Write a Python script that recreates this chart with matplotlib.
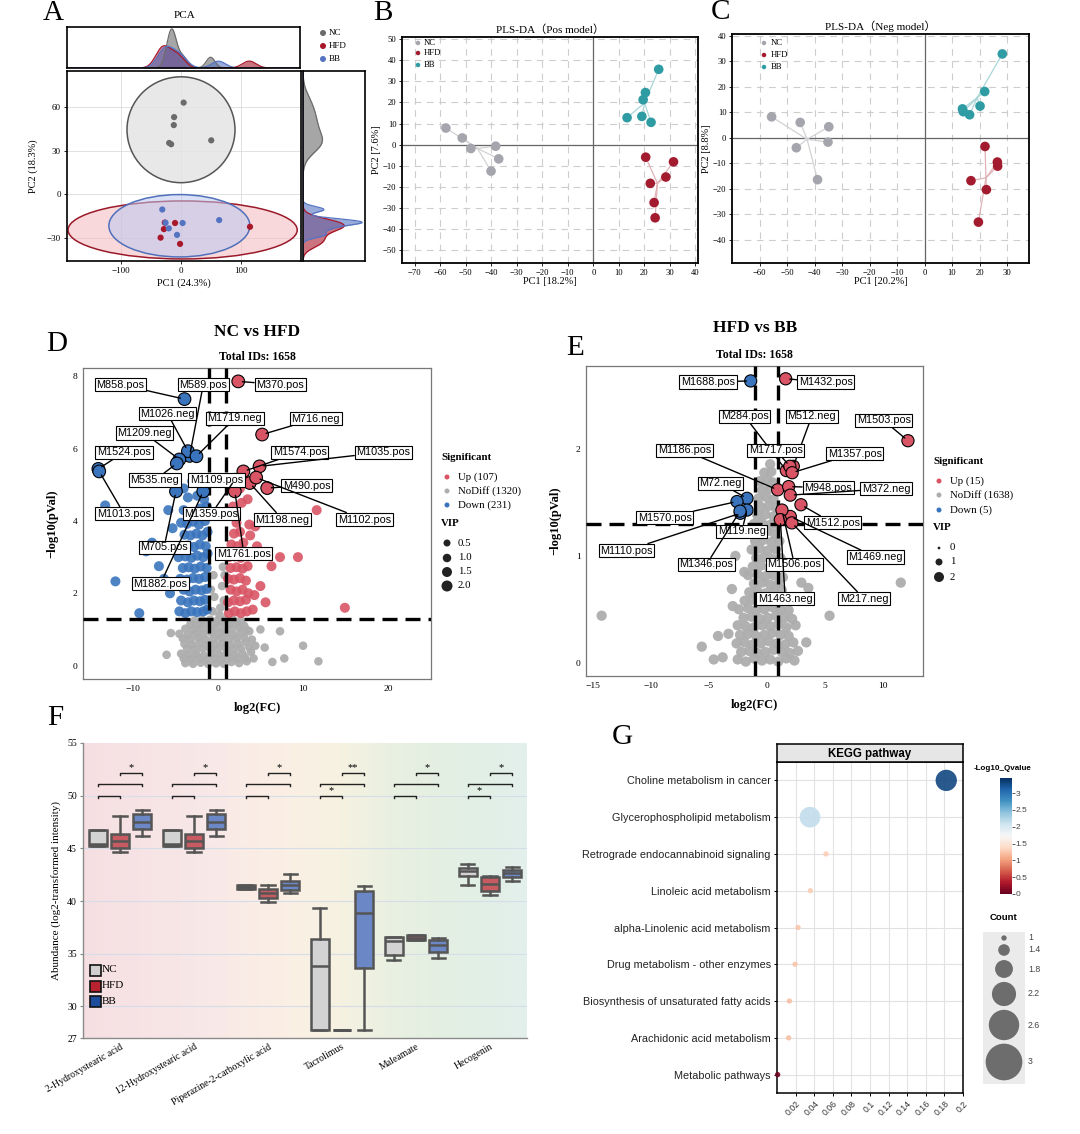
"""Metabolomics overview figure: PCA, PLS-DA, volcano plots, box plots and KEGG bubbles."""

import numpy as np
import matplotlib
matplotlib.use("Agg")
import matplotlib.pyplot as plt
from matplotlib.patches import Ellipse, Rectangle
from matplotlib.colors import LinearSegmentedColormap, Normalize, to_rgba
from matplotlib.cm import ScalarMappable

W, H = 1080, 1134
SERIF = ["Liberation Serif", "DejaVu Serif"]
SERIF_CJK = ["Liberation Serif", "Noto Sans CJK SC"]
SANS = ["Liberation Sans", "DejaVu Sans"]
plt.rcParams["font.family"] = SERIF

# ---------------- A: PCA scores ----------------
pca_nc_x = [4.4, -11.5, -12.0, -19.7, -16.4, 50.4]
pca_nc_y = [63.2, 53.2, 47.7, 35.4, 34.5, 37.2]
pca_hfd_x = [115.0, -9.9, -28.5, -34.0, -1.6, -27.0]
pca_hfd_y = [-22.4, -19.8, -24.0, -29.9, -34.2, -19.5]
pca_bb_x = [-31.2, -25.8, 2.7, -20.3, -6.6, 63.6]
pca_bb_y = [-10.5, -19.6, -19.8, -23.5, -28.0, -17.8]
# confidence ellipses (NC, HFD, BB)
pca_ell_cx = [0.0, 2.7, -2.7]
pca_ell_cy = [44.5, -24.6, -21.7]
pca_ell_w = [180.0, 382.0, 235.0]
pca_ell_h = [73.0, 40.0, 43.0]

# ---------------- B: PLS-DA positive mode ----------------
plsp_nc_x = [-57.8, -51.4, -48.0, -38.3, -37.1, -40.1]
plsp_nc_y = [7.9, 3.2, -1.8, -0.7, -6.7, -12.5]
plsp_hfd_x = [20.5, 31.4, 22.3, 28.4, 23.8, 24.2]
plsp_hfd_y = [-5.9, -8.1, -18.3, -15.3, -27.4, -34.6]
plsp_bb_x = [25.6, 20.4, 19.5, 13.2, 19.0, 22.6]
plsp_bb_y = [35.7, 24.7, 21.3, 12.8, 13.4, 10.6]

# ---------------- C: PLS-DA negative mode ----------------
plsn_nc_x = [-55.6, -45.2, -34.8, -46.6, -35.1, -38.9]
plsn_nc_y = [8.2, 6.0, 4.3, -3.9, -1.7, -16.4]
plsn_hfd_x = [22.0, 26.5, 26.6, 16.9, 22.5, 19.6]
plsn_hfd_y = [-3.4, -9.5, -11.1, -16.8, -20.3, -33.0]
plsn_bb_x = [28.3, 21.9, 20.2, 13.8, 14.1, 16.4]
plsn_bb_y = [32.8, 18.1, 12.4, 11.3, 10.2, 9.0]

# ---------------- D: volcano NC vs HFD ----------------
d_down = [
    (-4.5, 1.5), (-3.8, 1.45), (-3.1, 1.5), (-2.4, 1.48), (-1.7, 1.5), (-1.25, 1.55),
    (-4.3, 1.8), (-3.5, 1.75), (-2.8, 1.8), (-2.1, 1.78), (-1.5, 1.82),
    (-4.0, 2.1), (-3.3, 2.05), (-2.6, 2.1), (-1.9, 2.08), (-1.3, 2.12),
    (-4.4, 2.4), (-3.6, 2.38), (-2.9, 2.42), (-2.2, 2.4), (-1.5, 2.45),
    (-4.1, 2.7), (-3.4, 2.72), (-2.7, 2.68), (-2.0, 2.74), (-1.3, 2.7),
    (-4.6, 3.0), (-3.8, 3.02), (-3.1, 2.98), (-2.4, 3.04), (-1.7, 3.0), (-1.2, 3.1),
    (-4.2, 3.3), (-3.5, 3.32), (-2.8, 3.28), (-2.1, 3.35), (-1.4, 3.3),
    (-3.9, 3.62), (-3.2, 3.6), (-2.5, 3.65), (-1.8, 3.6), (-1.2, 3.7),
    (-4.3, 3.95), (-3.6, 3.92), (-2.9, 3.98), (-2.2, 3.9), (-1.5, 4.0),
    (-4.0, 4.3), (-3.0, 4.25), (-2.0, 4.35), (-1.3, 4.4),
    (-3.5, 4.65), (-2.4, 4.7), (-1.6, 4.6), (-2.0, 5.0), (-3.0, 5.1), (-4.0, 4.9),
    (-13.2, 4.43), (-12.0, 2.33), (-9.2, 1.45), (-6.9, 2.75), (-8.4, 3.16),
    (-6.0, 3.3), (-5.6, 2.0), (-5.3, 3.8), (-7.7, 3.4), (-5.8, 4.3), (-6.3, 2.4),
]
d_up = [
    (1.3, 1.45), (2.0, 1.5), (2.7, 1.45), (3.4, 1.5), (4.1, 1.55),
    (1.2, 1.75), (1.9, 1.8), (2.6, 1.78), (3.3, 1.82),
    (1.5, 2.1), (2.2, 2.05), (2.9, 2.1), (3.6, 2.0),
    (1.2, 2.4), (1.9, 2.38), (2.6, 2.42), (3.3, 2.35),
    (1.5, 2.7), (2.2, 2.72), (2.9, 2.68), (3.5, 2.75),
    (1.3, 3.0), (2.0, 3.02), (2.7, 2.98), (3.3, 3.05),
    (1.6, 3.35), (2.3, 3.3), (3.0, 3.4),
    (1.9, 3.65), (2.6, 3.7), (3.8, 3.6),
    (2.2, 3.95), (3.7, 3.9), (4.4, 3.85),
    (1.8, 4.4), (2.8, 4.5), (1.4, 4.15), (3.5, 4.6), (2.6, 4.9),
    (11.6, 4.3), (14.9, 1.6), (9.4, 3.0), (7.3, 3.0), (6.3, 2.75),
    (5.6, 1.75), (4.3, 1.95), (5.0, 2.2), (4.6, 3.3),
]
d_nodiff = [
    (-3.8, 0.07), (-2.9, 0.05), (-2.0, 0.08), (-1.1, 0.04), (-0.2, 0.06), (0.7, 0.05),
    (1.6, 0.1), (2.5, 0.07), (3.4, 0.12),
    (-4.0, 0.2), (-3.1, 0.18), (-2.2, 0.2), (-1.3, 0.17), (-0.4, 0.19), (0.5, 0.18),
    (1.4, 0.21), (2.3, 0.2), (3.2, 0.22), (4.2, 0.2),
    (-4.3, 0.33), (-3.4, 0.3), (-2.5, 0.32), (-1.6, 0.28), (-0.7, 0.33), (0.2, 0.3),
    (1.1, 0.35), (2.0, 0.3), (2.9, 0.33), (3.9, 0.38),
    (-3.6, 0.47), (-2.7, 0.45), (-1.8, 0.48), (-0.9, 0.46), (0.0, 0.47), (0.9, 0.49),
    (1.8, 0.45), (2.7, 0.47), (3.7, 0.5),
    (-3.9, 0.6), (-3.0, 0.58), (-2.1, 0.62), (-1.2, 0.57), (-0.3, 0.6), (0.6, 0.63),
    (1.5, 0.58), (2.4, 0.6), (3.3, 0.65), (4.4, 0.55),
    (-4.1, 0.75), (-3.2, 0.73), (-2.3, 0.76), (-1.4, 0.72), (-0.5, 0.75), (0.4, 0.77),
    (1.3, 0.73), (2.2, 0.75), (3.1, 0.78), (4.0, 0.72),
    (-4.5, 0.88), (-3.5, 0.85), (-2.6, 0.9), (-1.7, 0.87), (-0.8, 0.92), (0.1, 0.88),
    (1.0, 0.9), (1.9, 0.86), (2.8, 0.92), (3.7, 0.95),
    (-3.8, 1.02), (-2.9, 1.0), (-2.0, 1.03), (-1.1, 1.01), (-0.2, 1.04), (0.7, 1.0),
    (1.6, 1.02), (2.5, 1.05), (3.4, 0.99),
    (-3.2, 1.15), (-2.3, 1.12), (-1.4, 1.18), (-0.5, 1.14), (0.4, 1.2), (1.3, 1.15),
    (2.2, 1.18), (3.1, 1.1),
    (-2.7, 1.25), (-1.8, 1.26), (-0.9, 1.27), (0.0, 1.25), (0.9, 1.28), (1.8, 1.26),
    (2.7, 1.24),
    (-0.6, 1.5), (0.3, 1.6), (0.7, 1.8), (-0.4, 1.9), (0.5, 2.2), (0.6, 2.73),
    (-0.5, 2.5), (0.2, 1.4), (0.8, 2.5), (-0.8, 2.1),
    (-5.5, 0.9), (7.3, 0.95), (10.0, 0.55), (11.8, 0.12), (7.8, 0.2), (6.4, 0.1),
    (5.5, 0.5), (-6.0, 0.3), (5.0, 1.0),
]
d_lab_names = ["M370.pos", "M858.pos", "M589.pos", "M1026.neg", "M1719.neg", "M716.neg",
               "M1209.neg", "M1524.pos", "M1574.pos", "M1035.pos", "M535.neg", "M1109.pos",
               "M1013.pos", "M1359.pos", "M1198.neg", "M490.pos", "M1102.pos", "M1761.pos",
               "M705.pos", "M1882.pos"]
d_lab_x = [2.4, -3.9, -3.3, -3.5, -2.5, 5.2, -4.5, -14.0, 3.0, 4.9, -4.8, 1.9,
           -13.9, 2.0, 3.75, 5.8, 4.5, 2.0, -4.9, -1.7]
d_lab_y = [7.86, 7.37, 5.8, 5.93, 5.79, 6.39, 5.7, 5.44, 5.37, 5.51, 5.59, 4.87,
           5.37, 5.14, 5.05, 4.91, 5.2, 4.82, 4.82, 4.82]

# ---------------- E: volcano HFD vs BB ----------------
e_nodiff = [
    (-2.5, 0.03), (-1.8, 0.01), (-1.1, 0.04), (-0.4, 0.02), (0.3, 0.03), (1.0, 0.01), (1.7, 0.04), (2.4, 0.02),
    (-2.2, 0.1), (-1.5, 0.11), (-0.8, 0.09), (-0.1, 0.1), (0.6, 0.12), (1.3, 0.1), (2.0, 0.09), (2.7, 0.11),
    (-2.6, 0.18), (-1.9, 0.19), (-1.2, 0.17), (-0.5, 0.18), (0.2, 0.2), (0.9, 0.18), (1.6, 0.17), (2.3, 0.19),
    (-2.3, 0.26), (-1.6, 0.27), (-0.9, 0.25), (-0.2, 0.26), (0.5, 0.28), (1.2, 0.26), (1.9, 0.25),
    (-2.5, 0.35), (-1.8, 0.34), (-1.1, 0.33), (-0.4, 0.35), (0.3, 0.34), (1.0, 0.36), (1.7, 0.33), (2.5, 0.35),
    (-2.0, 0.42), (-1.3, 0.43), (-0.6, 0.41), (0.1, 0.42), (0.8, 0.44), (1.5, 0.42), (2.2, 0.41),
    (-2.4, 0.5), (-1.6, 0.51), (-0.9, 0.49), (-0.2, 0.5), (0.5, 0.52), (1.2, 0.5), (1.9, 0.49),
    (-1.9, 0.58), (-1.2, 0.59), (-0.5, 0.57), (0.2, 0.58), (0.9, 0.6), (1.6, 0.58),
    (-1.5, 0.66), (-0.8, 0.67), (-0.1, 0.65), (0.6, 0.66), (1.3, 0.68),
    (-1.1, 0.74), (-0.4, 0.75), (0.3, 0.73), (1.0, 0.74),
    (-1.6, 0.82), (-0.8, 0.83), (-0.1, 0.81), (0.6, 0.82), (1.4, 0.8),
    (-1.2, 0.9), (-0.5, 0.91), (0.2, 0.89), (0.9, 0.9),
    (-0.9, 0.98), (-0.2, 0.99), (0.5, 0.97), (1.2, 0.98),
    (-1.3, 1.06), (-0.6, 1.07), (0.1, 1.05), (0.8, 1.06),
    (-1.0, 1.14), (-0.3, 1.15), (0.4, 1.13), (1.1, 1.14),
    (-0.7, 1.22), (0.0, 1.23), (0.7, 1.21),
    (-1.1, 1.3), (-0.4, 1.31), (0.3, 1.29), (0.9, 1.3),
    (-0.8, 1.38), (-0.1, 1.39), (0.6, 1.37),
    (-0.5, 1.46), (0.2, 1.47), (0.8, 1.45),
    (-0.7, 1.54), (0.0, 1.55), (0.6, 1.53),
    (-0.4, 1.62), (0.3, 1.63),
    (-0.6, 1.7), (0.1, 1.71), (0.5, 1.69),
    (-0.2, 1.78), (0.4, 1.79), (0.3, 1.86),
    (-14.25, 0.44), (11.58, 0.75), (5.43, 0.44), (3.42, 0.19), (3.0, 0.75), (-3.0, 0.69),
    (-2.93, 0.53), (-3.3, 0.27), (-5.6, 0.15), (-4.2, 0.25), (-4.57, 0.03), (-2.7, 1.0),
    (-1.93, 0.85), (3.6, 0.7), (-3.8, 0.05),
]
e_lab_names = ["M1688.pos", "M1432.pos", "M1503.pos", "M284.pos", "M512.neg", "M1717.pos",
               "M1186.pos", "M1357.pos", "M948.pos", "M372.neg", "M72.neg", "M1570.pos",
               "M119.neg", "M1110.pos", "M1346.pos", "M1512.pos", "M1469.neg", "M1506.pos",
               "M1463.neg", "M217.neg"]
e_lab_x = [-1.38, 1.64, 12.2, 1.7, 2.3, 2.0, 0.95, 2.2, 1.9, 2.04, -1.7, -2.56,
           -1.7, -2.27, -2.3, 2.96, 2.04, 1.32, 1.18, 2.18]
e_lab_y = [2.64, 2.66, 2.08, 1.8, 1.84, 1.84, 1.62, 1.78, 1.65, 1.57, 1.54, 1.51,
           1.43, 1.4, 1.42, 1.48, 1.37, 1.43, 1.34, 1.31]

# ---------------- F: box plots ----------------
f_compounds = ["2-Hydroxystearic acid", "12-Hydroxystearic acid", "Piperazine-2-carboxylic acid",
               "Tacrolimus", "Maleamate", "Hecogenin"]
# (whisker low, q1, median, q3, whisker high)
f_nc = [(45.2, 45.25, 45.45, 46.7, 46.7), (45.2, 45.25, 45.45, 46.7, 46.7),
        (41.17, 41.17, 41.36, 41.55, 41.55), (27.78, 27.78, 33.86, 36.42, 39.34),
        (34.37, 34.9, 36.17, 36.58, 36.58), (41.49, 42.34, 42.82, 43.13, 43.54)]
f_hfd = [(44.62, 45.03, 45.73, 46.4, 48.04), (44.62, 45.03, 45.73, 46.4, 48.04),
         (39.9, 40.28, 40.76, 41.17, 41.49), (27.78, 27.78, 27.78, 27.78, 27.78),
         (36.27, 36.27, 36.5, 36.8, 36.8), (40.54, 40.92, 41.65, 42.25, 42.34)]
f_bb = [(46.14, 46.84, 47.5, 48.26, 48.67), (46.14, 46.84, 47.5, 48.26, 48.67),
        (40.76, 41.01, 41.55, 41.87, 42.56), (27.78, 33.61, 38.86, 40.98, 41.39),
        (34.62, 35.16, 35.85, 36.33, 36.49), (41.87, 42.28, 42.66, 42.91, 43.23)]
f_sig_nc_hfd = ["", "", "", "*", "", "*"]
f_sig_nc_bb = ["", "", "", "", "", ""]
f_sig_hfd_bb = ["*", "*", "*", "**", "*", "*"]

# ---------------- G: KEGG enrichment ----------------
g_pathways = ["Choline metabolism in cancer", "Glycerophospholipid metabolism",
              "Retrograde endocannabinoid signaling", "Linoleic acid metabolism",
              "alpha-Linolenic acid metabolism", "Drug metabolism - other enzymes",
              "Biosynthesis of unsaturated fatty acids", "Arachidonic acid metabolism",
              "Metabolic pathways"]
g_ratio = [0.182, 0.0355, 0.0527, 0.0358, 0.0226, 0.0194, 0.0133, 0.0125, 0.0007]
g_count = [2.02, 1.98, 1.0, 1.0, 1.0, 1.0, 1.0, 1.0, 1.0]
g_qval = [3.3, 2.15, 1.3, 1.3, 1.25, 1.25, 1.2, 1.2, 0.05]
g_count_breaks = [1, 1.4, 1.8, 2.2, 2.6, 3]

# ---------------- figure ----------------
fig = plt.figure(figsize=(W / 100, H / 100), dpi=100)


def px_axes(x0, y0, x1, y1):
    return fig.add_axes([x0 / W, 1 - y1 / H, (x1 - x0) / W, (y1 - y0) / H])


def kde(vals, grid):
    # gaussian density with R's bw.nrd0 bandwidth, like ggplot's geom_density
    vals = np.asarray(vals, float)
    sd = vals.std(ddof=1)
    q75, q25 = np.percentile(vals, [75, 25])
    lo = min(sd, (q75 - q25) / 1.34) or sd
    bw = 0.9 * lo * len(vals) ** -0.2
    d = np.exp(-0.5 * ((grid[:, None] - vals[None, :]) / bw) ** 2).sum(axis=1)
    return d / (len(vals) * bw * np.sqrt(2 * np.pi))


def pts(d):
    return (d * 0.72) ** 2


# ---- A ----
A_COL = ["#6b6b6b", "#a8182a", "#5474c2"]
ell_face = [to_rgba("#e4e4e4", 0.85), to_rgba("#f4b9bd", 0.55), to_rgba("#bcc9ef", 0.55)]
ell_edge = ["#555555", "#9b1a2a", "#5070bb"]
ax_top = px_axes(67, 27, 300, 68)
ax_a = px_axes(67, 71, 301, 261)
ax_r = px_axes(303, 71, 365, 261)
groups_a = [(pca_nc_x, pca_nc_y), (pca_hfd_x, pca_hfd_y), (pca_bb_x, pca_bb_y)]
for i in range(3):
    ax_a.add_patch(Ellipse((pca_ell_cx[i], pca_ell_cy[i]), pca_ell_w[i], pca_ell_h[i],
                           facecolor=ell_face[i], edgecolor=ell_edge[i], lw=1.1, zorder=1))
for (gx, gy), c in zip(groups_a, A_COL):
    ax_a.scatter(gx, gy, s=20, color=c, edgecolor="none", zorder=3)
ax_a.set_xlim(-190, 200)
ax_a.set_ylim(-46, 85)
ax_a.set_xticks([-100, 0, 100])
ax_a.set_yticks([-30, 0, 30, 60])
ax_a.grid(color="#dcdcdc", lw=0.6)
ax_a.set_axisbelow(True)
ax_a.tick_params(labelsize=6.5, length=2.5, width=0.6, pad=2)
ax_a.set_xlabel("PC1 (24.3%)", fontsize=7.5, labelpad=2)
ax_a.set_ylabel("PC2 (18.3%)", fontsize=7.5, labelpad=6)
gx_grid = np.linspace(-190, 200, 500)
gy_grid = np.linspace(-46, 85, 500)
for (gx, gy), c in zip(groups_a, A_COL):
    dx = kde(gx, gx_grid)
    ax_top.fill_between(gx_grid, dx, color=c, alpha=0.6, lw=0)
    ax_top.plot(gx_grid, dx, color=c, lw=0.9)
    dy = kde(gy, gy_grid)
    ax_r.fill_betweenx(gy_grid, dy, color=c, alpha=0.6, lw=0)
    ax_r.plot(dy, gy_grid, color=c, lw=0.9)
ax_top.set_xlim(-190, 200)
ax_top.set_ylim(0, None)
ax_r.set_ylim(-46, 85)
ax_r.set_xlim(0, None)
for ax in (ax_top, ax_r, ax_a):
    for s in ax.spines.values():
        s.set_linewidth(1.2)
ax_top.set_xticks([])
ax_top.set_yticks([])
ax_r.set_xticks([])
ax_r.set_yticks([])

# ---- B / C ----
P_COL = ["#a5a5ad", "#a31b2f", "#2f9ca3"]
P_LINE = ["#d2d2d6", "#e0b2b7", "#a9d6d8"]


def plsda(box, groups, xlim, ylim, xticks, yticks, title, xlabel, ylabel):
    ax = px_axes(*box)
    for (gx, gy), c, lc in zip(groups, P_COL, P_LINE):
        cx, cy = np.mean(gx), np.mean(gy)
        for x, y in zip(gx, gy):
            ax.plot([cx, x], [cy, y], color=lc, lw=0.9, zorder=2)
        ax.scatter(gx, gy, s=48, color=c, edgecolor="none", zorder=3)
    ax.axhline(0, color="#666666", lw=0.9, zorder=1)
    ax.axvline(0, color="#666666", lw=0.9, zorder=1)
    ax.set_xlim(*xlim)
    ax.set_ylim(*ylim)
    ax.set_xticks(xticks)
    ax.set_yticks(yticks)
    ax.grid(color="#cdcdcd", lw=0.8, ls=(0, (6, 5)))
    ax.set_axisbelow(True)
    ax.tick_params(labelsize=6.2, length=2.5, width=0.6, pad=1.5)
    for s in ax.spines.values():
        s.set_linewidth(1.3)
    ax.set_title(title, fontsize=8, family=SERIF_CJK, pad=3)
    ax.set_xlabel(xlabel, fontsize=7.5, labelpad=0)
    ax.set_ylabel(ylabel, fontsize=7.5, labelpad=1)
    return ax


plsda((402, 37, 698, 263),
      [(plsp_nc_x, plsp_nc_y), (plsp_hfd_x, plsp_hfd_y), (plsp_bb_x, plsp_bb_y)],
      (-75, 41), (-56, 51), range(-70, 41, 10), range(-50, 51, 10),
      "PLS-DA（Pos model）", "PC1 [18.2%]", "PC2 [7.6%]")
plsda((732, 34, 1029, 263),
      [(plsn_nc_x, plsn_nc_y), (plsn_hfd_x, plsn_hfd_y), (plsn_bb_x, plsn_bb_y)],
      (-70, 38), (-49, 40.6), range(-60, 31, 10), range(-40, 41, 10),
      "PLS-DA（Neg model）", "PC1 [20.2%]", "PC2 [8.8%]")

# ---- D / E volcano ----
C_UP, C_ND, C_DN = "#d95565", "#adadad", "#3a74bd"


def volcano(box, up, nodiff, down, names, lx, ly, text_pos, xlim, ylim, xticks, yticks,
            s_big, s_nd):
    ax = px_axes(*box)
    if nodiff:
        x, y = zip(*nodiff)
        ax.scatter(x, y, s=s_nd, color=C_ND, alpha=0.95, edgecolor="none", zorder=2)
    if down:
        x, y = zip(*down)
        ax.scatter(x, y, s=s_big, color=C_DN, alpha=0.9, edgecolor="none", zorder=2)
    if up:
        x, y = zip(*up)
        ax.scatter(x, y, s=s_big, color=C_UP, alpha=0.9, edgecolor="none", zorder=2)
    dash = (0, (4.5, 2.4))
    ax.axvline(-1, color="black", lw=2.4, ls=dash, zorder=4)
    ax.axvline(1, color="black", lw=2.4, ls=dash, zorder=4)
    ax.axhline(-np.log10(0.05), color="black", lw=2.4, ls=dash, zorder=4)
    cols = [C_UP if v > 0 else C_DN for v in lx]
    ax.scatter(lx, ly, s=s_big * 1.6, c=cols, edgecolor="black", lw=0.8, zorder=5)
    for name, x, y, (tx, ty) in zip(names, lx, ly, text_pos):
        ax.annotate(name, xy=(x, y), xytext=(tx, ty), ha="center", va="center",
                    fontsize=7.8, family=SANS, zorder=6,
                    bbox=dict(boxstyle="square,pad=0.15", fc="white", ec="black", lw=0.8),
                    arrowprops=dict(arrowstyle="-", color="black", lw=1.0,
                                    shrinkA=0, shrinkB=3))
    ax.set_xlim(*xlim)
    ax.set_ylim(*ylim)
    ax.set_xticks(xticks)
    ax.set_yticks(yticks)
    ax.tick_params(labelsize=6.8, length=0, pad=4)
    for s in ax.spines.values():
        s.set_color("#777777")
        s.set_linewidth(0.9)
    ax.set_xlabel("log2(FC)", fontsize=9, fontweight="bold", labelpad=7)
    ax.set_ylabel("−log10(pVal)", fontsize=9, fontweight="bold", labelpad=10)
    ax.set_title("Total IDs: 1658", fontsize=8.5, fontweight="bold", pad=6)
    return ax


d_text_pos = [(7.3, 7.77), (-11.4, 7.77), (-1.7, 7.77), (-5.9, 6.97), (2.0, 6.84),
              (11.5, 6.83), (-8.6, 6.43), (-11.0, 5.9), (9.6, 5.9), (19.4, 5.9),
              (-7.4, 5.13), (-0.16, 5.13), (-11.0, 4.2), (-0.74, 4.2), (7.6, 4.04),
              (10.4, 4.98), (17.2, 4.04), (3.05, 3.1), (-6.3, 3.27), (-6.7, 2.27)]
e_text_pos = [(-5.06, 2.63), (5.1, 2.63), (10.1, 2.27), (-1.9, 2.31), (3.9, 2.31),
              (0.8, 1.99), (-7.1, 1.99), (7.6, 1.96), (5.3, 1.64), (10.3, 1.63),
              (-3.97, 1.68), (-8.8, 1.36), (-2.15, 1.23), (-12.1, 1.05), (-5.2, 0.92),
              (5.7, 1.31), (9.4, 0.99), (2.4, 0.92), (1.6, 0.6), (8.4, 0.6)]
volcano((83, 368, 431, 679), d_up, d_nodiff, d_down, d_lab_names, d_lab_x, d_lab_y,
        d_text_pos, (-15.8, 25), (-0.37, 8.23), [-10, 0, 10, 20], [0, 2, 4, 6, 8], 52, 38)
volcano((586, 366, 923, 676), [], e_nodiff, [], e_lab_names, e_lab_x, e_lab_y,
        e_text_pos, (-15.6, 13.5), (-0.125, 2.78), [-15, -10, -5, 0, 5, 10], [0, 1, 2], 48, 55)

# ---- F box plots ----
ax_f = px_axes(83, 743, 527, 1038)
bg = LinearSegmentedColormap.from_list(
    "bg", [(0.0, "#f6dfe2"), (0.28, "#f8e8e8"), (0.42, "#fbeee5"), (0.57, "#f7f2e2"),
           (0.72, "#e7f0e1"), (0.88, "#e2efe5"), (1.0, "#e3f0ec")])
ax_f.imshow(np.linspace(0, 1, 256)[None, :], cmap=bg, aspect="auto", extent=(0, 1, 0, 1),
            transform=ax_f.transAxes, zorder=0)
F_FACE = ["#d3d3d3", "#c85a62", "#6b87c6"]
offsets = [-0.3, 0.0, 0.3]
for gi, data in enumerate([f_nc, f_hfd, f_bb]):
    stats = [dict(whislo=s[0], q1=s[1], med=s[2], q3=s[3], whishi=s[4], fliers=[])
             for s in data]
    pos = [i + offsets[gi] for i in range(len(data))]
    ax_f.bxp(stats, positions=pos, widths=0.25, patch_artist=True, showfliers=False,
             boxprops=dict(facecolor=F_FACE[gi], edgecolor="#555555", lw=1.8),
             medianprops=dict(color="#555555", lw=1.8),
             whiskerprops=dict(color="#555555", lw=1.8),
             capprops=dict(color="#555555", lw=1.8), capwidths=0.18,
             manage_ticks=False, zorder=3)
for y in [30, 35, 40, 45, 50]:
    ax_f.axhline(y, color="#d5dde8", lw=0.8, zorder=1)
for i in range(len(f_compounds)):
    for (a, b), lev, sig in [((0, 1), 50.0, f_sig_nc_hfd[i]), ((0, 2), 51.1, f_sig_nc_bb[i]),
                             ((1, 2), 52.2, f_sig_hfd_bb[i])]:
        x0, x1 = i + offsets[a], i + offsets[b]
        ax_f.plot([x0, x0, x1, x1], [lev - 0.22, lev, lev, lev - 0.22], color="#222222",
                  lw=1.0, zorder=4)
        if sig:
            ax_f.text((x0 + x1) / 2, lev + 0.05, sig, ha="center", va="bottom", fontsize=7.5,
                      zorder=4)
ax_f.set_xlim(-0.5, 5.5)
ax_f.set_ylim(27, 55)
ax_f.set_yticks([27, 30, 35, 40, 45, 50, 55])
ax_f.set_xticks(range(len(f_compounds)))
ax_f.set_xticklabels(f_compounds, rotation=30, ha="right", rotation_mode="anchor", fontsize=7)
ax_f.tick_params(axis="y", labelsize=7, length=2.5, color="#888888", pad=2)
ax_f.tick_params(axis="x", length=0, pad=3)
for k in ("top", "right"):
    ax_f.spines[k].set_visible(False)
for k in ("left", "bottom"):
    ax_f.spines[k].set_color("#8a8a8a")
    ax_f.spines[k].set_linewidth(1.0)
ax_f.set_ylabel("Abundance (log2-transformed intensity)", fontsize=8, labelpad=4)

# ---- G KEGG bubbles ----
cmap_g = plt.get_cmap("RdBu")
norm_g = Normalize(0, 3.45)
ax_g = px_axes(777, 762, 963, 1093)
yy = np.arange(len(g_pathways))[::-1]


def count_size(c):
    return pts((16 + 47 * (np.asarray(c, float) - 1)) / 3)


ax_g.scatter(g_ratio, yy, s=count_size(g_count), c=g_qval, cmap=cmap_g, norm=norm_g,
             alpha=0.9, edgecolor="none", zorder=3, clip_on=False)
ax_g.set_xlim(0, 0.2)
ax_g.set_ylim(-0.5, len(g_pathways) - 0.5)
ax_g.set_yticks(yy)
ax_g.set_yticklabels(g_pathways, fontsize=7.8, family=SANS, color="#222222")
xt = [0.02 * k for k in range(1, 11)]
ax_g.set_xticks(xt)
ax_g.set_xticklabels([f"{v:g}" for v in xt], rotation=45, ha="right",
                     rotation_mode="anchor", fontsize=6.3, family=SANS, color="#333333")
ax_g.grid(color="#e2e2e2", lw=0.8)
ax_g.set_axisbelow(True)
ax_g.tick_params(length=2.5, width=0.7, pad=2)
for s in ax_g.spines.values():
    s.set_linewidth(1.1)
ax_s = px_axes(777, 744, 963, 762)
ax_s.set_facecolor("#e6e6e6")
ax_s.set_xticks([])
ax_s.set_yticks([])
for s in ax_s.spines.values():
    s.set_linewidth(1.1)
ax_s.text(0.5, 0.45, "KEGG pathway", ha="center", va="center", fontsize=8.3,
          fontweight="bold", family=SANS, transform=ax_s.transAxes)

cax = px_axes(1000, 778, 1012, 894)
cb = fig.colorbar(ScalarMappable(norm=norm_g, cmap=cmap_g), cax=cax,
                  ticks=[0, 0.5, 1, 1.5, 2, 2.5, 3])
cb.outline.set_visible(False)
cb.ax.set_yticklabels(["0", "0.5", "1", "1.5", "2", "2.5", "3"], fontsize=6, family=SANS,
                      color="#444444")
cb.ax.tick_params(length=2, width=0.6, pad=0.5, color="#444444")

ax_cl = px_axes(983, 932, 1025, 1084)
ax_cl.set_facecolor("#ebebeb")
ax_cl.set_xlim(0, 1)
ax_cl.set_ylim(1084, 932)
ax_cl.set_xticks([])
ax_cl.set_yticks([])
for s in ax_cl.spines.values():
    s.set_visible(False)
cl_y = [938, 950, 969, 994, 1025, 1062]
ax_cl.scatter([0.5] * len(cl_y), cl_y, s=count_size(g_count_breaks), color="#6d6d6d",
              edgecolor="none", clip_on=False)

# ---- overlay: legends, letters, titles ----
ov = fig.add_axes([0, 0, 1, 1])
ov.set_xlim(0, W)
ov.set_ylim(H, 0)
ov.axis("off")
ov.patch.set_visible(False)


def dot(x, y, d, c):
    ov.scatter([x], [y], s=pts(d), color=c, edgecolor="none", clip_on=False)


for lab, (x, y) in zip("ABCDEFG", [(53, 13), (383, 13), (721, 12), (57, 344), (575, 348),
                                    (55, 718), (622, 737)]):
    ov.text(x, y, lab, fontsize=21, ha="center", va="center")
ov.text(185, 15, "PCA", fontsize=8, ha="center", va="center")
for (y, lab), c in zip([(33, "NC"), (46, "HFD"), (59, "BB")], A_COL):
    dot(323, y, 6, c)
    ov.text(329, y, lab, fontsize=6.5, va="center")
for (y, lab), c in zip([(43, "NC"), (53, "HFD"), (65, "BB")], P_COL):
    dot(418, y, 4.5, c)
    ov.text(424, y, lab, fontsize=6.3, va="center")
for (y, lab), c in zip([(43, "NC"), (55, "HFD"), (67, "BB")], P_COL):
    dot(764, y, 4.5, c)
    ov.text(771, y, lab, fontsize=6.3, va="center")

ov.text(257, 332, "NC vs HFD", fontsize=12.5, fontweight="bold", ha="center", va="center")
ov.text(755, 328, "HFD vs BB", fontsize=12.5, fontweight="bold", ha="center", va="center")


def vol_legend(x, y_sig, items, y_vip, vips):
    ov.text(x, y_sig, "Significant", fontsize=7.8, fontweight="bold", va="center")
    for (yy_, lab, c) in items:
        dot(x + 6, yy_, 5, c)
        ov.text(x + 17, yy_, lab, fontsize=7.8, va="center")
    ov.text(x, y_vip, "VIP", fontsize=7.8, fontweight="bold", va="center")
    for (yy_, lab, d) in vips:
        dot(x + 6, yy_, d, "#222222")
        ov.text(x + 17, yy_, lab, fontsize=7.8, va="center")


vol_legend(441, 457, [(477, "Up (107)", C_UP), (491, "NoDiff (1320)", C_ND),
                      (505, "Down (231)", C_DN)],
           524, [(543, "0.5", 7), (558, "1.0", 8.5), (572, "1.5", 10), (586, "2.0", 11)])
vol_legend(933, 462, [(481, "Up (15)", C_UP), (495, "NoDiff (1638)", C_ND),
                      (510, "Down (5)", C_DN)],
           528, [(548, "0", 2.8), (562, "1", 7), (577, "2", 10)])

for (y, lab), c in zip([(970, "NC"), (986, "HFD"), (1001, "BB")],
                       ["#d0d0d0", "#b8232f", "#1e4c9c"]):
    ov.add_patch(Rectangle((90, y - 5.5), 11, 11, facecolor=c, edgecolor="#111111", lw=1.2))
    ov.text(102, y, lab, fontsize=8, va="center")

ov.text(1003, 768, "-Log10_Qvalue", fontsize=5.8, fontweight="bold", family=SANS,
        ha="center", va="center")
ov.text(1003, 917, "Count", fontsize=6.8, fontweight="bold", family=SANS,
        ha="center", va="center")
for y, lab in zip(cl_y, g_count_breaks):
    ov.text(1028, y, f"{lab:g}", fontsize=6.3, family=SANS, va="center", color="#444444")

fig.savefig("out.png", dpi=100)
